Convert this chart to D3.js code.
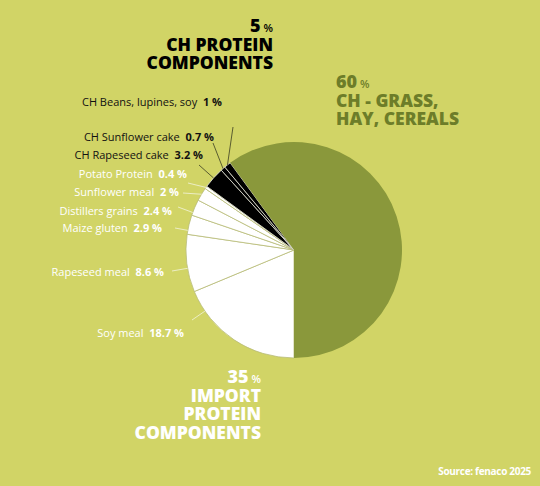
<!DOCTYPE html>
<html>
<head>
<meta charset="utf-8">
<script src="https://cdn.jsdelivr.net/npm/d3@7"></script>
<style>
  html, body { margin: 0; padding: 0; background: #d1d466; }
  svg { display: block; }
</style>
</head>
<body>
<svg id="chart" width="540" height="486"></svg>
<script>
// slice data, clockwise from the bottom of the pie
const sliceNames = [
  "Soy meal", "Rapeseed meal", "Maize gluten", "Distillers grains",
  "Sunflower meal", "Potato Protein", "CH Rapeseed cake",
  "CH Sunflower cake", "CH Beans, lupines, soy", "CH - grass, hay, cereals"
];
const sliceValues = [18.7, 8.6, 2.9, 2.4, 2, 0.4, 3.2, 0.7, 1, 60];
const sliceGroups = [
  "import", "import", "import", "import", "import", "import",
  "ch", "ch", "ch", "base"
];

// group headings
const groupKeys = ["ch", "base", "import"];
const groupTotals = [5, 60, 35];
const groupTitles = [
  ["CH PROTEIN", "COMPONENTS"],
  ["CH - GRASS,", "HAY, CEREALS"],
  ["IMPORT", "PROTEIN", "COMPONENTS"]
];
const sourceText = "Source: fenaco 2025";

// hand placed label anchors (text end x, baseline y) and leader starts
const labelLayout = [
  { x: 184, y: 337, lx: 192, ly: 320 },
  { x: 164, y: 276, lx: 172, ly: 271 },
  { x: 162, y: 232, lx: 175, ly: 228 },
  { x: 172, y: 215, lx: 178, ly: 207 },
  { x: 179, y: 196, lx: 183, ly: 193 },
  { x: 187, y: 178, lx: 188, ly: 183 },
  { x: 203, y: 159, lx: 199, ly: 165 },
  { x: 214, y: 141, lx: 213, ly: 143 },
  { x: 222, y: 106, lx: 233, ly: 127 },
  null
];

const colors = { bg: "#d1d466", base: "#8a983b", import: "#ffffff", ch: "#000000", title: "#6d7d29" };
const font = "'Open Sans', sans-serif";
const cx = 294, cy = 250, radius = 108;

const svg = d3.select("#chart");
const data = sliceValues.map((v, i) => ({ name: sliceNames[i], value: v, group: sliceGroups[i], layout: labelLayout[i] }));

const pie = d3.pie()
  .sort(null)
  .value(d => d.value)
  .startAngle(Math.PI)
  .endAngle(3 * Math.PI);

const arc = d3.arc().innerRadius(0).outerRadius(radius);
const arcs = pie(data);

const g = svg.append("g").attr("transform", `translate(${cx},${cy})`);

g.selectAll("path.slice")
  .data(arcs)
  .join("path")
  .attr("class", "slice")
  .attr("d", arc)
  .attr("fill", d => colors[d.data.group])
  .attr("stroke", d => d.data.group === "import" ? "#b7bb78" : d.data.group === "ch" ? "#e6e6dc" : "none")
  .attr("stroke-width", 0.8);

// leader lines: aim at the pie centre if that hits the slice, otherwise at its mid angle
function leaderEnd(d) {
  const l = d.data.layout;
  const dx = l.lx - cx, dy = l.ly - cy;
  let a = Math.atan2(dx, -dy);
  while (a < d.startAngle) a += 2 * Math.PI;
  if (a > d.endAngle) a = (d.startAngle + d.endAngle) / 2;
  return [cx + radius * Math.sin(a), cy - radius * Math.cos(a)];
}

const labelled = arcs.filter(d => d.data.layout);

svg.selectAll("line.leader")
  .data(labelled)
  .join("line")
  .attr("class", "leader")
  .attr("x1", d => d.data.layout.lx)
  .attr("y1", d => d.data.layout.ly)
  .attr("x2", d => leaderEnd(d)[0])
  .attr("y2", d => leaderEnd(d)[1])
  .attr("stroke", d => d.data.group === "ch" ? "#3b3d22" : "#f3f4dc")
  .attr("stroke-width", 0.8);

const labels = svg.selectAll("text.label")
  .data(labelled)
  .join("text")
  .attr("class", "label")
  .attr("x", d => d.data.layout.x)
  .attr("y", d => d.data.layout.y)
  .attr("text-anchor", "end")
  .attr("font-family", font)
  .attr("font-size", 11)
  .attr("fill", d => d.data.group === "ch" ? "#111" : "#fff");

labels.append("tspan").text(d => d.data.name + "\u00a0\u00a0");
labels.append("tspan").attr("font-weight", 700).text(d => d.data.value + " %");

// group headings: total and % as two texts, then one text per line
const titleLayout = {
  ch: { x: 273, y: 32, anchor: "end", fill: "#000" },
  base: { x: 336, y: 88, anchor: "start", fill: colors.title },
  import: { x: 261, y: 383, anchor: "end", fill: "#fff" }
};

function headText(t, size, weight) {
  return svg.append("text")
    .attr("font-family", font)
    .attr("font-size", size)
    .attr("font-weight", weight)
    .attr("fill", t.fill);
}

groupKeys.forEach((key, i) => {
  const t = titleLayout[key];
  const num = headText(t, 18, 800).attr("y", t.y).text(groupTotals[i]);
  const pct = headText(t, 11, 600).attr("y", t.y).text("%");
  const numW = num.node().getComputedTextLength();
  const pctW = pct.node().getComputedTextLength();
  const gap = 3;
  if (t.anchor === "end") {
    pct.attr("x", t.x - pctW);
    num.attr("x", t.x - pctW - gap - numW);
  } else {
    num.attr("x", t.x);
    pct.attr("x", t.x + numW + gap);
  }

  groupTitles[i].forEach((line, j) => {
    headText(t, 17.5, 800)
      .attr("x", t.x)
      .attr("y", t.y + 18.5 * (j + 1))
      .attr("text-anchor", t.anchor)
      .text(line);
  });
});

svg.append("text")
  .attr("x", 531)
  .attr("y", 475)
  .attr("text-anchor", "end")
  .attr("font-family", font)
  .attr("font-weight", 700)
  .attr("font-size", 10)
  .attr("letter-spacing", -0.3)
  .attr("fill", "#fff")
  .text(sourceText);
</script>
</body>
</html>
